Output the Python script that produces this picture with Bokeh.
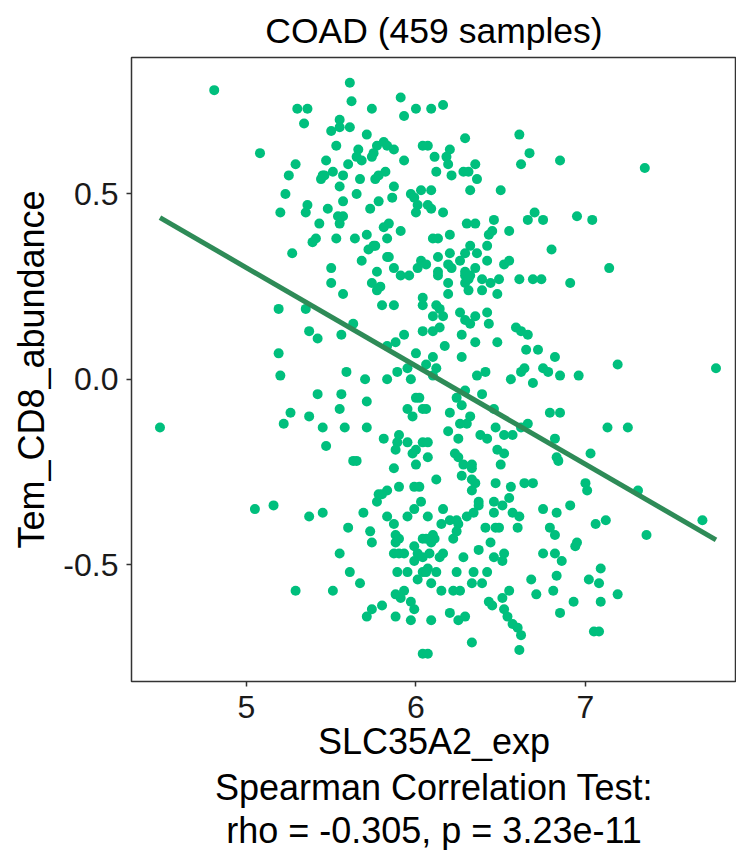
import numpy as np
from bokeh.plotting import figure
from bokeh.models import FixedTicker, NumeralTickFormatter, Title, Range1d
from bokeh.embed import file_html
from bokeh.resources import INLINE

title_text = "COAD (459 samples)"
x_label = "SLC35A2_exp"
y_label = "Tem_CD8_abundance"
stat_line1 = "Spearman Correlation Test:"
stat_line2 = "rho = -0.305, p = 3.23e-11"
x_ticks = [5, 6, 7]
y_ticks = [-0.5, 0.0, 0.5]

# linear fit drawn in the reference
fit_slope = -0.265
fit_intercept = 1.626

slc35a2_exp = [
    4.81, 5.30, 5.08, 5.29, 5.25, 5.23, 5.20, 5.27, 5.61, 5.62, 5.36, 5.34, 5.74, 5.91, 6.00, 5.93,
    5.55, 5.50, 5.55, 5.61, 5.71, 5.53, 5.66, 5.77, 5.81, 5.83, 5.87, 5.75, 5.74, 5.65, 5.68, 5.47,
    5.60, 5.51, 5.93, 6.04, 5.45, 5.44, 5.46, 5.57, 5.82, 5.67, 5.76, 5.78, 5.55, 5.87, 5.65, 5.86,
    5.97, 5.99, 6.03, 5.57, 5.36, 5.35, 5.78, 5.73, 6.01, 6.00, 5.48, 5.54, 5.57, 5.55, 5.43, 5.81,
    5.84, 5.91, 5.71, 5.83, 5.53, 5.64, 5.39, 5.41, 5.72, 5.75, 5.76, 5.83, 5.84, 5.68, 5.50, 5.77,
    5.87, 6.01, 6.03, 6.09, 6.16, 6.61, 6.29, 6.67, 6.62, 6.07, 6.11, 6.20, 6.18, 6.19, 6.12, 6.21,
    6.28, 6.31, 6.35, 6.36, 6.32, 6.50, 6.09, 6.07, 6.09, 6.16, 6.30, 6.35, 6.46, 6.66, 6.70, 6.75,
    6.45, 6.43, 6.55, 6.10, 6.13, 6.20, 6.42, 6.32, 6.29, 6.36, 6.20, 6.13, 6.26, 6.42, 6.06, 6.19,
    6.21, 6.35, 6.52, 6.55, 6.29, 6.13, 6.85, 7.35, 6.95, 7.04, 6.80, 7.14, 5.19, 5.19, 5.20, 5.26,
    5.22, 4.49, 5.50, 5.57, 5.91, 5.96, 5.74, 5.79, 5.77, 5.80, 5.87, 6.04, 6.04, 5.35, 5.63, 5.37,
    5.42, 5.56, 6.04, 5.93, 5.88, 5.83, 6.00, 5.59, 5.70, 5.83, 5.89, 5.95, 5.97, 5.42, 5.56, 5.55,
    5.71, 6.00, 6.02, 5.95, 5.98, 6.04, 5.37, 5.45, 5.58, 5.71, 5.81, 5.90, 5.89, 5.88, 5.95, 6.00,
    5.98, 6.04, 5.47, 5.63, 5.65, 5.87, 6.00, 6.13, 6.29, 6.32, 6.29, 6.31, 6.31, 6.39, 6.44, 6.39,
    6.49, 6.61, 6.69, 6.74, 6.19, 6.19, 6.48, 6.12, 6.14, 6.10, 6.16, 6.26, 6.29, 6.32, 6.35, 6.42,
    6.43, 6.10, 6.14, 6.27, 6.17, 6.35, 6.48, 6.59, 6.62, 6.66, 6.65, 6.72, 6.10, 6.27, 6.06, 6.12,
    6.10, 6.36, 6.41, 6.56, 6.62, 6.64, 6.69, 6.75, 6.24, 6.29, 6.39, 6.06, 6.27, 6.20, 6.32, 6.30,
    6.26, 6.46, 6.47, 6.19, 6.25, 6.38, 6.42, 6.52, 6.57, 6.66, 6.62, 6.07, 6.07, 6.23, 6.25, 6.28,
    6.48, 6.52, 6.33, 6.50, 6.91, 6.82, 6.78, 6.85, 6.96, 7.19, 7.77, 6.79, 6.85, 6.82, 7.13, 7.25,
    6.83, 6.84, 7.03, 5.05, 5.16, 5.29, 5.90, 5.99, 6.02, 5.83, 5.80, 5.78, 5.77, 6.03, 5.99, 5.95,
    5.83, 5.69, 5.37, 5.45, 5.60, 5.73, 5.74, 5.87, 5.88, 5.90, 5.88, 6.04, 5.99, 5.87, 5.90, 5.93,
    6.01, 6.04, 5.99, 5.55, 5.61, 5.89, 5.95, 6.01, 6.04, 5.67, 5.51, 5.93, 5.88, 5.91, 5.80, 5.74,
    5.71, 5.97, 5.99, 5.88, 5.97, 6.04, 6.33, 6.27, 6.33, 6.33, 6.35, 6.12, 6.47, 6.56, 6.64, 6.69,
    6.55, 6.37, 6.37, 6.46, 6.51, 6.16, 6.07, 6.46, 6.57, 6.61, 6.30, 6.34, 6.20, 6.24, 6.25, 6.24,
    6.15, 6.75, 6.41, 6.47, 6.49, 6.60, 6.10, 6.06, 6.09, 6.11, 6.22, 6.44, 6.08, 6.14, 6.16, 6.37,
    6.28, 6.46, 6.52, 6.51, 6.75, 6.07, 6.06, 6.12, 6.09, 6.24, 6.34, 6.39, 6.33, 6.42, 6.15, 6.22,
    6.26, 6.43, 6.45, 6.51, 6.55, 6.52, 6.54, 6.68, 6.71, 6.20, 6.25, 6.29, 6.09, 6.57, 6.60, 6.62,
    6.33, 6.61, 6.07, 7.00, 7.01, 7.31, 6.91, 6.83, 6.79, 6.82, 7.06, 7.12, 7.69, 7.36, 6.95, 6.94,
    6.82, 6.86, 7.09, 6.83, 7.02, 7.08, 6.81, 7.19, 6.93, 7.09, 6.85, 7.05, 7.08,
]

tem_cd8_abundance = [
    0.78, 0.73, 0.61, 0.58, 0.55, 0.50, 0.45, 0.34, 0.80, 0.75, 0.73, 0.69, 0.73, 0.76, 0.73, 0.71,
    0.70, 0.67, 0.68, 0.68, 0.66, 0.63, 0.62, 0.63, 0.64, 0.63, 0.62, 0.61, 0.60, 0.60, 0.59, 0.59,
    0.58, 0.56, 0.59, 0.63, 0.55, 0.54, 0.55, 0.55, 0.56, 0.54, 0.54, 0.55, 0.52, 0.52, 0.50, 0.49,
    0.50, 0.49, 0.51, 0.48, 0.47, 0.45, 0.48, 0.46, 0.47, 0.45, 0.46, 0.44, 0.44, 0.42, 0.42, 0.41,
    0.42, 0.40, 0.39, 0.38, 0.38, 0.38, 0.37, 0.38, 0.35, 0.36, 0.36, 0.33, 0.33, 0.32, 0.30, 0.29,
    0.30, 0.30, 0.32, 0.73, 0.74, 0.66, 0.65, 0.61, 0.58, 0.63, 0.60, 0.62, 0.60, 0.58, 0.56, 0.55,
    0.56, 0.56, 0.58, 0.54, 0.51, 0.51, 0.51, 0.47, 0.46, 0.45, 0.42, 0.42, 0.43, 0.43, 0.45, 0.43,
    0.40, 0.39, 0.40, 0.38, 0.38, 0.39, 0.36, 0.36, 0.34, 0.34, 0.34, 0.33, 0.32, 0.32, 0.31, 0.31,
    0.30, 0.30, 0.31, 0.32, 0.29, 0.29, 0.59, 0.57, 0.44, 0.43, 0.35, 0.30, 0.19, 0.07, 0.01, -0.09,
    -0.12, -0.13, 0.26, 0.23, 0.28, 0.28, 0.26, 0.25, 0.24, 0.20, 0.20, 0.22, 0.20, 0.19, 0.15, 0.13,
    0.11, 0.12, 0.13, 0.12, 0.10, 0.09, 0.07, 0.02, 0.00, 0.00, 0.02, 0.03, 0.00, -0.04, -0.04, -0.08,
    -0.06, -0.05, -0.05, -0.08, -0.10, -0.08, -0.10, -0.13, -0.13, -0.13, -0.16, -0.15, -0.17, -0.19, -0.17, -0.19,
    -0.20, -0.17, -0.18, -0.22, -0.22, -0.24, -0.23, 0.28, 0.28, 0.28, 0.26, 0.27, 0.24, 0.27, 0.26, 0.24,
    0.27, 0.27, 0.27, 0.27, 0.26, 0.23, 0.23, 0.20, 0.19, 0.17, 0.17, 0.18, 0.16, 0.15, 0.17, 0.18,
    0.15, 0.13, 0.14, 0.12, 0.09, 0.10, 0.10, 0.14, 0.13, 0.12, 0.08, 0.08, 0.06, 0.06, 0.04, 0.03,
    0.01, 0.01, 0.02, 0.00, 0.02, 0.03, -0.01, 0.03, -0.05, -0.03, -0.04, -0.08, -0.07, -0.09, -0.10, -0.12,
    -0.12, -0.08, -0.13, -0.14, -0.16, -0.15, -0.16, -0.15, -0.15, -0.12, -0.13, -0.17, -0.21, -0.20, -0.21, -0.23,
    -0.19, -0.20, -0.23, -0.23, 0.26, 0.06, 0.02, 0.01, 0.01, 0.04, 0.03, -0.09, -0.09, -0.16, -0.13, -0.13,
    -0.21, -0.22, -0.20, -0.35, -0.34, -0.57, -0.29, -0.29, -0.29, -0.30, -0.31, -0.31, -0.33, -0.33, -0.35, -0.37,
    -0.37, -0.36, -0.37, -0.36, -0.40, -0.41, -0.44, -0.39, -0.42, -0.43, -0.44, -0.43, -0.45, -0.47, -0.47, -0.47,
    -0.47, -0.48, -0.49, -0.47, -0.52, -0.52, -0.52, -0.54, -0.52, -0.55, -0.57, -0.57, -0.58, -0.59, -0.61, -0.62,
    -0.64, -0.60, -0.62, -0.64, -0.65, -0.74, -0.24, -0.26, -0.27, -0.30, -0.28, -0.27, -0.28, -0.29, -0.28, -0.28,
    -0.32, -0.33, -0.34, -0.33, -0.34, -0.35, -0.37, -0.36, -0.36, -0.37, -0.37, -0.36, -0.38, -0.38, -0.39, -0.41,
    -0.39, -0.35, -0.40, -0.40, -0.40, -0.40, -0.42, -0.43, -0.44, -0.43, -0.43, -0.44, -0.47, -0.48, -0.47, -0.46,
    -0.48, -0.48, -0.47, -0.49, -0.47, -0.51, -0.52, -0.52, -0.55, -0.52, -0.52, -0.55, -0.55, -0.52, -0.57, -0.57,
    -0.57, -0.60, -0.61, -0.59, -0.57, -0.62, -0.64, -0.54, -0.58, -0.63, -0.65, -0.64, -0.65, -0.66, -0.67, -0.69,
    -0.71, -0.73, -0.74, -0.28, -0.30, -0.30, -0.34, -0.36, -0.40, -0.42, -0.39, -0.38, -0.38, -0.42, -0.44, -0.45,
    -0.47, -0.49, -0.51, -0.53, -0.54, -0.55, -0.57, -0.58, -0.60, -0.60, -0.63, -0.68, -0.68,
]

xs = np.array(slc35a2_exp)
ys = np.array(tem_cd8_abundance)
fit_x = np.array([xs.min(), xs.max()])
fit_y = fit_intercept + fit_slope * fit_x

FONT = "Liberation Sans"

p = figure(width=736, height=850, output_backend="svg", toolbar_location=None,
           x_range=Range1d(4.322, 7.891), y_range=Range1d(-0.815, 0.868),
           min_border_left=131, min_border_right=0, min_border_top=57, min_border_bottom=167)
p.background_fill_color = "white"
p.border_fill_color = "white"
p.xgrid.visible = False
p.ygrid.visible = False
p.outline_line_color = "#333333"
p.outline_line_width = 1.5

p.title.text = title_text
p.title.align = "center"
p.title.text_font = FONT
p.title.text_font_size = "35.5px"
p.title.text_font_style = "normal"
p.title.text_color = "#000000"
p.title.standoff = 14

p.scatter(xs, ys, size=10, color="#00BF7D", line_color=None)
p.line(fit_x, fit_y, line_width=5, color="#2E8B57")

for ax in (p.xaxis[0], p.yaxis[0]):
    ax.axis_line_color = None
    ax.major_tick_line_color = "#333333"
    ax.major_tick_line_width = 1.5
    ax.major_tick_out = 5
    ax.major_tick_in = 0
    ax.minor_tick_line_color = None
    ax.major_label_text_font = FONT
    ax.major_label_text_font_size = "32px"
    ax.major_label_text_color = "#1A1A1A"
    ax.axis_label_text_font = FONT
    ax.axis_label_text_font_size = "36px"
    ax.axis_label_text_font_style = "normal"
    ax.axis_label_text_color = "#000000"

p.xaxis.ticker = FixedTicker(ticks=x_ticks)
p.xaxis.formatter = NumeralTickFormatter(format="0")
p.yaxis.ticker = FixedTicker(ticks=y_ticks)
p.yaxis.formatter = NumeralTickFormatter(format="0.0")
p.xaxis.axis_label = x_label
p.yaxis.axis_label = y_label
p.xaxis.major_label_standoff = 9
p.xaxis.axis_label_standoff = 0
p.yaxis.major_label_standoff = 8
p.yaxis.axis_label_standoff = 8

for t in (stat_line1, stat_line2):
    p.add_layout(Title(text=t, align="center", text_font=FONT, text_font_size="36px",
                       text_font_style="normal", text_color="#000000", standoff=0), "below")

open("out.html", "w").write(file_html(p, INLINE))
